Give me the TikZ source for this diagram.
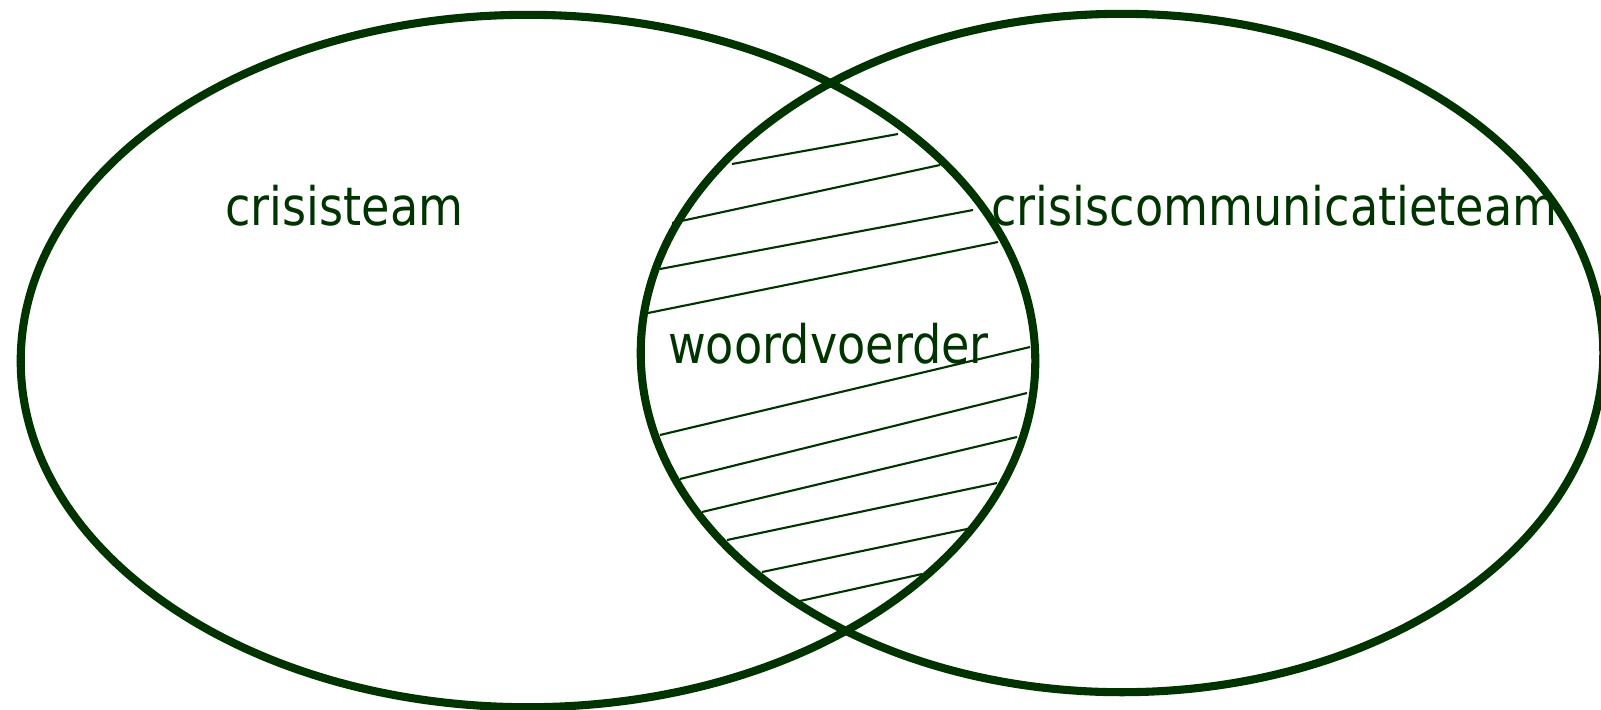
\documentclass[tikz,border=0pt]{standalone}
\usepackage{fontspec}
\newfontfamily\lblfont[FakeStretch=0.87]{DejaVu Sans}
\definecolor{vgreen}{HTML}{003300}
\begin{document}
\begin{tikzpicture}[x=0.01cm,y=-0.01cm,
  setring/.style={draw=vgreen,line width=2.3pt},
  hatchline/.style={draw=vgreen,line width=0.6pt},
  setlabel/.style={text=vgreen,inner sep=0pt,anchor=base,font=\lblfont\fontsize{15.1pt}{18pt}\selectfont}]
\useasboundingbox (0,0) rectangle (1601,709);
% sets
\draw[setring] (528,361) ellipse [x radius=5.07cm, y radius=3.46cm];
\draw[setring] (1122,353) ellipse [x radius=4.81cm, y radius=3.39cm];
% hatching of the intersection
\coordinate (h1a) at (732,164);  \coordinate (h1b) at (898,134);
\coordinate (h2a) at (672,223);  \coordinate (h2b) at (940,165);
\coordinate (h3a) at (660,269);  \coordinate (h3b) at (973,210);
\coordinate (h4a) at (648,313);  \coordinate (h4b) at (998,242);
\coordinate (h5a) at (660,435);  \coordinate (h5b) at (1030,347);
\coordinate (h6a) at (680,479);  \coordinate (h6b) at (1027,393);
\coordinate (h7a) at (702,512);  \coordinate (h7b) at (1017,437);
\coordinate (h8a) at (727,540);  \coordinate (h8b) at (997,483);
\coordinate (h9a) at (762,572);  \coordinate (h9b) at (967,529);
\coordinate (h10a) at (800,601); \coordinate (h10b) at (922,574);
\foreach \i in {1,...,10}{\draw[hatchline] (h\i a) -- (h\i b);}
% labels
\node[setlabel] (crisis) at (344.5,225) {crisisteam};
\node[setlabel] (comm) at (1274.5,225) {crisiscommunicatieteam};
\node[setlabel] (spokes) at (828.5,363) {woordvoerder};
\end{tikzpicture}
\end{document}
